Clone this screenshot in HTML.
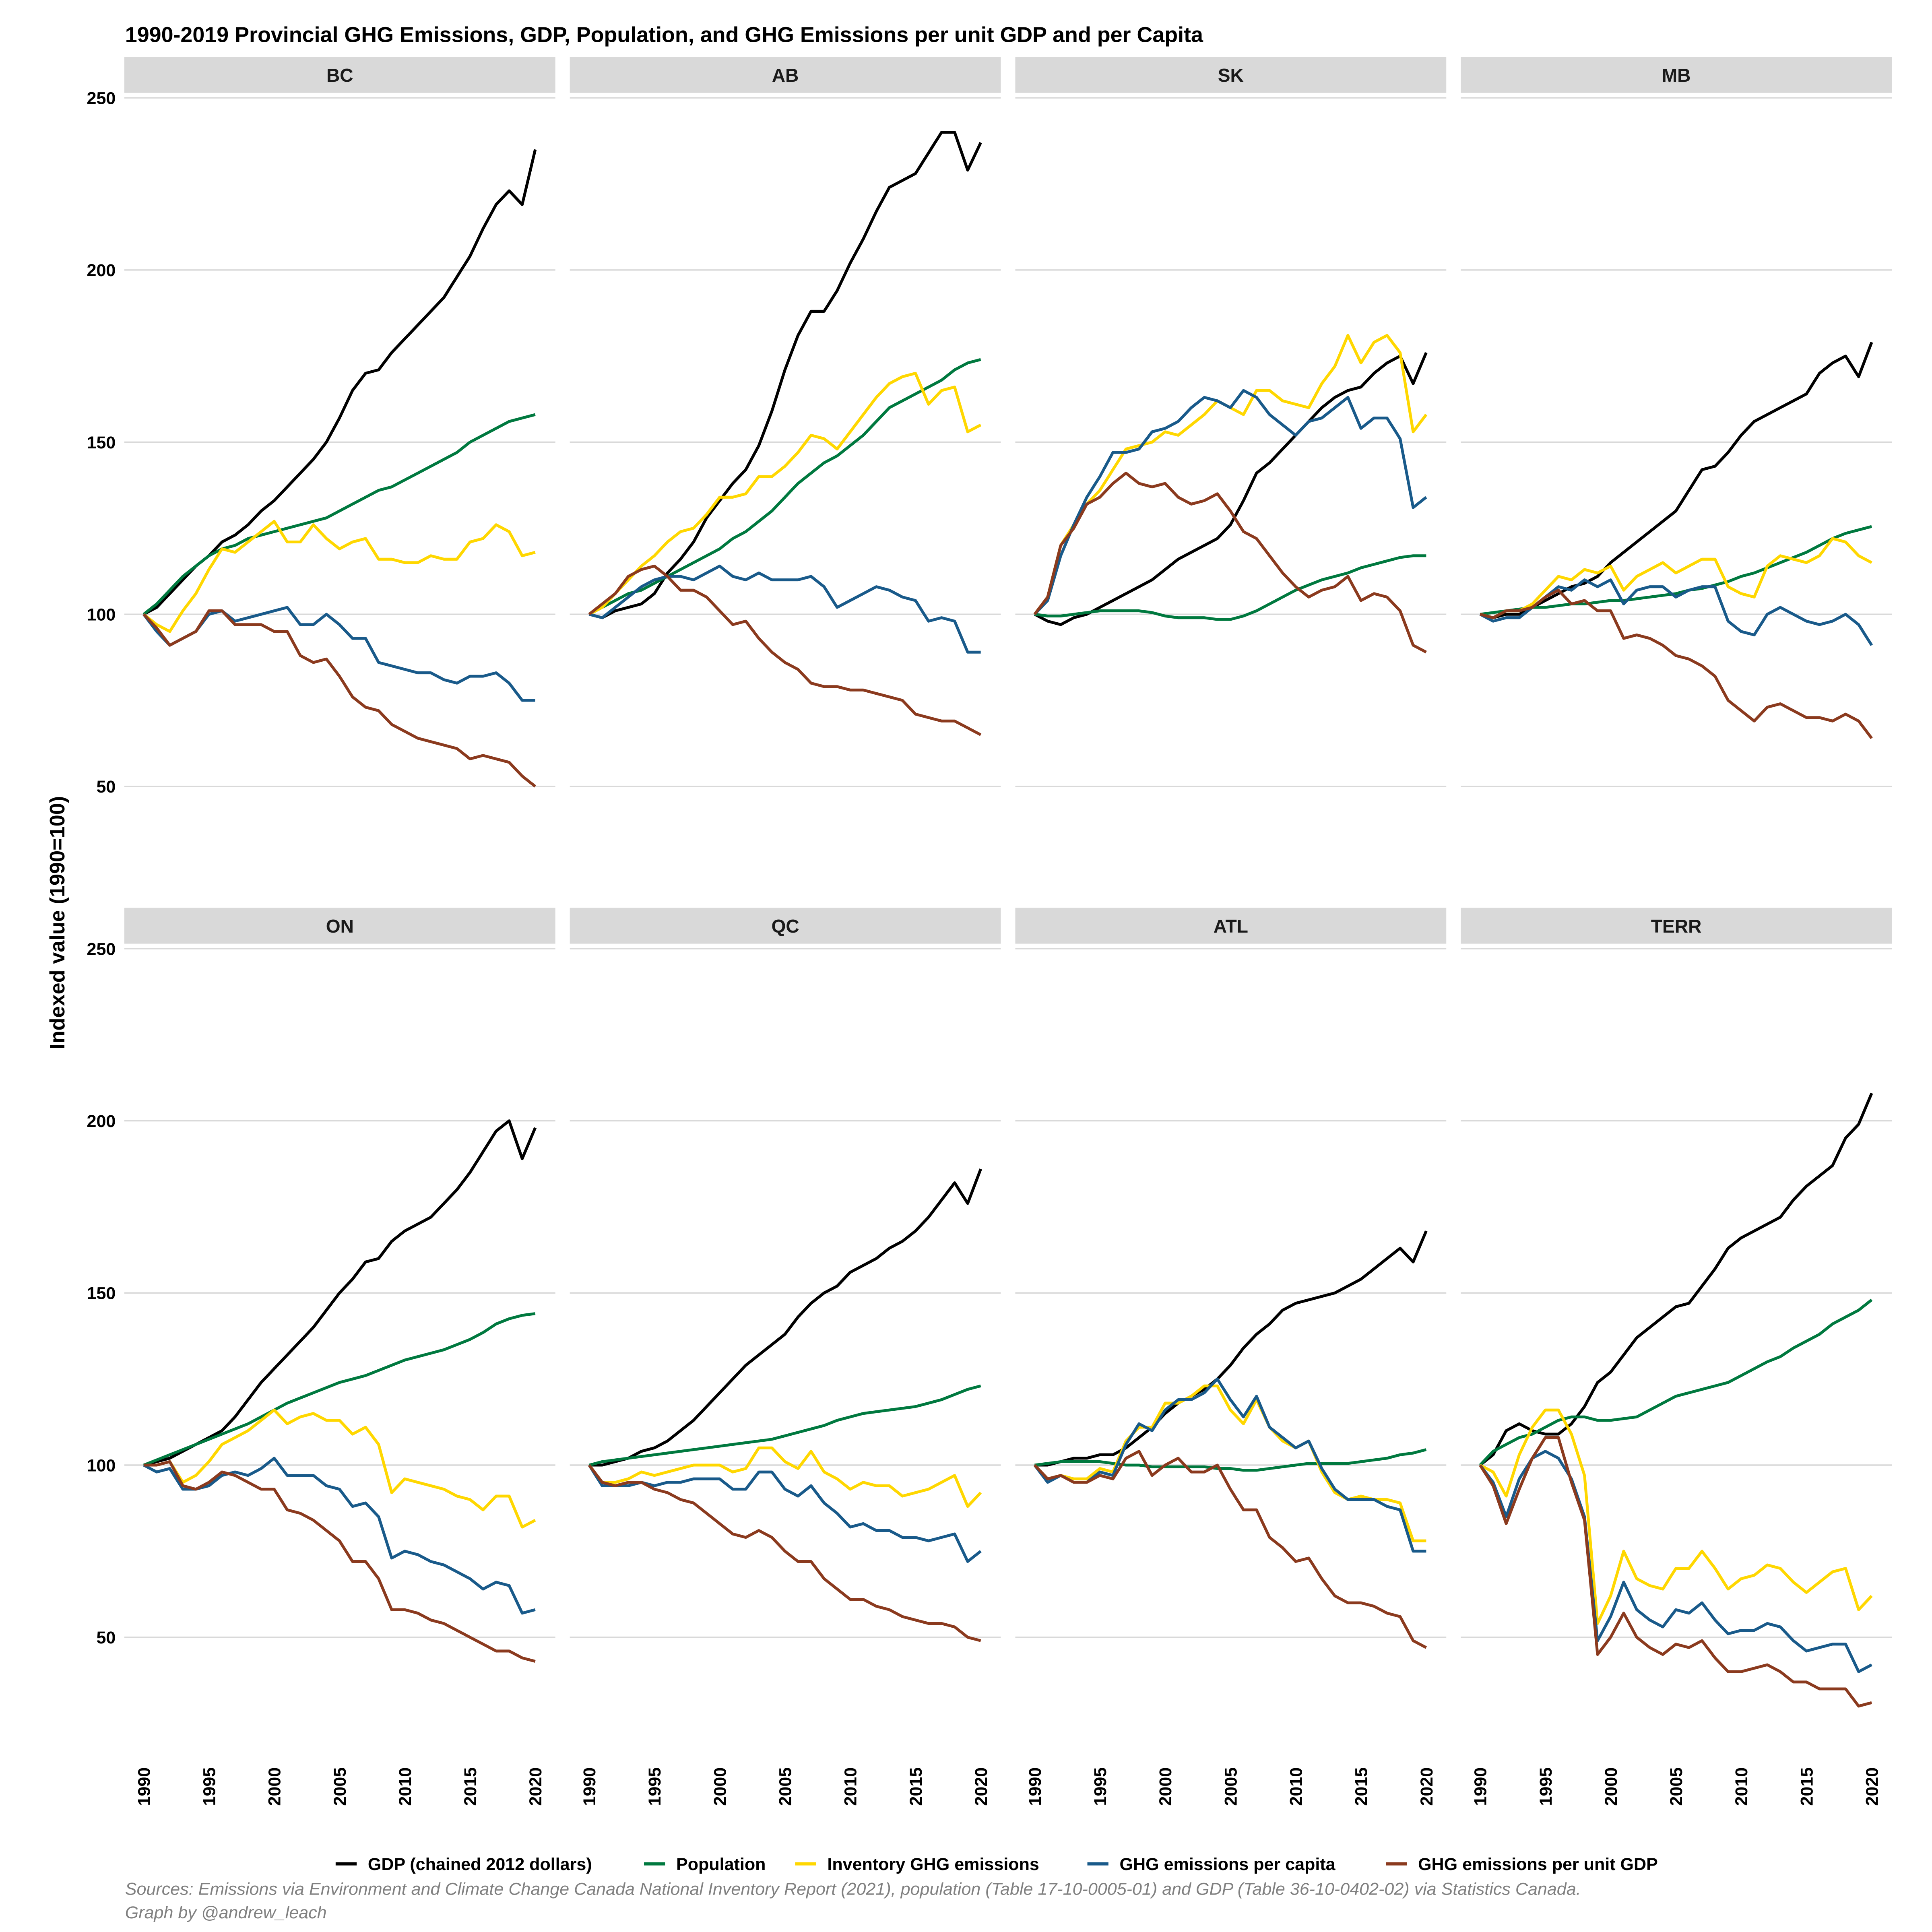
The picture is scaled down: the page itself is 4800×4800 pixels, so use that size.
<!DOCTYPE html>
<html><head><meta charset="utf-8"><style>
html,body{margin:0;padding:0;background:#fff;}
svg{display:block;font-family:"Liberation Sans",Arial,sans-serif;}
</style></head><body>
<svg id="chart" width="4800" height="4800" viewBox="0 0 1560 1560" xmlns="http://www.w3.org/2000/svg">
<rect width="1560" height="1560" fill="#fff"/>
<text x="101" y="34" font-size="17.5" font-weight="bold" fill="#000">1990-2019 Provincial GHG Emissions, GDP, Population, and GHG Emissions per unit GDP and per Capita</text>
<text transform="translate(52,745) rotate(-90)" text-anchor="middle" font-size="17" font-weight="bold" fill="#000">Indexed value (1990=100)</text>
<g id="panels"></g>
<g id="legend"></g>
<text x="101" y="1530" font-size="14" font-style="italic" fill="#808080">Sources: Emissions via Environment and Climate Change Canada National Inventory Report (2021), population (Table 17-10-0005-01) and GDP (Table 36-10-0402-02) via Statistics Canada.</text>
<text x="101" y="1549" font-size="14" font-style="italic" fill="#808080">Graph by @andrew_leach</text>
</svg>
<script>
const regions = ["BC","AB","SK","MB","ON","QC","ATL","TERR"];
const seriesNames = ["GDP (chained 2012 dollars)","Population","Inventory GHG emissions","GHG emissions per capita","GHG emissions per unit GDP"];
const seriesColors = ["#000000","#00793f","#ffd700","#195a8a","#8b3a1e"];
const yTicks = [50,100,150,200,250];
const xTicks = [1990,1995,2000,2005,2010,2015,2020];
const startYear = 1990;

const gdp = {
BC:[100,102,106,110,114,117,121,123,126,130,133,137,141,145,150,157,165,170,171,176,180,184,188,192,198,204,212,219,223,219,235],
AB:[100,99,101,102,103,106,112,116,121,128,133,138,142,149,159,171,181,188,188,194,202,209,217,224,226,228,234,240,240,229,237],
SK:[100,98,97,99,100,102,104,106,108,110,113,116,118,120,122,126,133,141,144,148,152,156,160,163,165,166,170,173,175,167,176],
MB:[100,99,100,100,102,104,106,108,109,111,115,118,121,124,127,130,136,142,143,147,152,156,158,160,162,164,170,173,175,169,179],
ON:[100,101,102,104,106,108,110,114,119,124,128,132,136,140,145,150,154,159,160,165,168,170,172,176,180,185,191,197,200,189,198],
QC:[100,100,101,102,104,105,107,110,113,117,121,125,129,132,135,138,143,147,150,152,156,158,160,163,165,168,172,177,182,176,186],
ATL:[100,100,101,102,102,103,103,105,108,111,115,118,120,122,125,129,134,138,141,145,147,148,149,150,152,154,157,160,163,159,168],
TERR:[100,103,110,112,110,109,109,112,117,124,127,132,137,140,143,146,147,152,157,163,166,168,170,172,177,181,184,187,195,199,208]
};
const population = {
BC:[100,103,107,111,114,117,119,120,122,123,124,125,126,127,128,130,132,134,136,137,139,141,143,145,147,150,152,154,156,157,158],
AB:[100,102,104,106,107,109,111,113,115,117,119,122,124,127,130,134,138,141,144,146,149,152,156,160,162,164,166,168,171,173,174],
SK:[100,99.5,99.5,100,100.5,101,101,101,101,100.5,99.5,99,99,99,98.5,98.5,99.5,101,103,105,107,108.5,110,111,112,113.5,114.5,115.5,116.5,117,117],
MB:[100,100.5,101,101.5,102,102,102.5,103,103,103.5,104,104,104.5,105,105.5,106,107,107.5,108.5,109.5,111,112,113.5,115,116.5,118,120,122,123.5,124.5,125.5],
ON:[100,101.5,103,104.5,106,107.5,109,110.5,112,114,116,118,119.5,121,122.5,124,125,126,127.5,129,130.5,131.5,132.5,133.5,135,136.5,138.5,141,142.5,143.5,144],
QC:[100,101,101.5,102,102.5,103,103.5,104,104.5,105,105.5,106,106.5,107,107.5,108.5,109.5,110.5,111.5,113,114,115,115.5,116,116.5,117,118,119,120.5,122,123],
ATL:[100,100.5,101,101,101,101,100.5,100,100,99.5,99.5,99.5,99.5,99.5,99,99,98.5,98.5,99,99.5,100,100.5,100.5,100.5,100.5,101,101.5,102,103,103.5,104.5],
TERR:[100,104,106,108,109,111,113,114,114,113,113,113.5,114,116,118,120,121,122,123,124,126,128,130,131.5,134,136,138,141,143,145,148]
};
const inventory = {
BC:[100,97,95,101,106,113,119,118,121,124,127,121,121,126,122,119,121,122,116,116,115,115,117,116,116,121,122,126,124,117,118],
AB:[100,102,106,110,114,117,121,124,125,129,134,134,135,140,140,143,147,152,151,148,153,158,163,167,169,170,161,165,166,153,155],
SK:[100,105,120,126,132,136,142,148,149,150,153,152,155,158,162,160,158,165,165,162,161,160,167,172,181,173,179,181,176,153,158],
MB:[100,99,101,101,103,107,111,110,113,112,114,107,111,113,115,112,114,116,116,108,106,105,114,117,116,115,117,122,121,117,115],
ON:[100,100,101,95,97,101,106,108,110,113,116,112,114,115,113,113,109,111,106,92,96,95,94,93,91,90,87,91,91,82,84],
QC:[100,95,95,96,98,97,98,99,100,100,100,98,99,105,105,101,99,104,98,96,93,95,94,94,91,92,93,95,97,88,92],
ATL:[100,96,97,96,96,99,98,107,111,111,118,118,120,123,123,116,112,119,111,107,105,107,98,92,90,91,90,90,89,78,78],
TERR:[100,98,91,103,111,116,116,109,97,54,62,75,67,65,64,70,70,75,70,64,67,68,71,70,66,63,66,69,70,58,62]
};
const perCapita = {
BC:[100,95,91,93,95,100,101,98,99,100,101,102,97,97,100,97,93,93,86,85,84,83,83,81,80,82,82,83,80,75,75],
AB:[100,99,102,105,108,110,111,111,110,112,114,111,110,112,110,110,110,111,108,102,104,106,108,107,105,104,98,99,98,89,89],
SK:[100,104,117,126,134,140,147,147,148,153,154,156,160,163,162,160,165,163,158,155,152,156,157,160,163,154,157,157,151,131,134],
MB:[100,98,99,99,102,105,108,107,110,108,110,103,107,108,108,105,107,108,108,98,95,94,100,102,100,98,97,98,100,97,91],
ON:[100,98,99,93,93,94,97,98,97,99,102,97,97,97,94,93,88,89,85,73,75,74,72,71,69,67,64,66,65,57,58],
QC:[100,94,94,94,95,94,95,95,96,96,96,93,93,98,98,93,91,94,89,86,82,83,81,81,79,79,78,79,80,72,75],
ATL:[100,95,97,95,95,98,97,106,112,110,116,119,119,121,125,119,114,120,111,108,105,107,99,93,90,90,90,88,87,75,75],
TERR:[100,95,85,96,102,104,102,96,85,49,56,66,58,55,53,58,57,60,55,51,52,52,54,53,49,46,47,48,48,40,42]
};
const perGdp = {
BC:[100,96,91,93,95,101,101,97,97,97,95,95,88,86,87,82,76,73,72,68,66,64,63,62,61,58,59,58,57,53,50],
AB:[100,103,106,111,113,114,111,107,107,105,101,97,98,93,89,86,84,80,79,79,78,78,77,76,75,71,70,69,69,67,65],
SK:[100,105,120,125,132,134,138,141,138,137,138,134,132,133,135,130,124,122,117,112,108,105,107,108,111,104,106,105,101,91,89],
MB:[100,99,101,101,102,105,107,103,104,101,101,93,94,93,91,88,87,85,82,75,72,69,73,74,72,70,70,69,71,69,64],
ON:[100,100,101,94,93,95,98,97,95,93,93,87,86,84,81,78,72,72,67,58,58,57,55,54,52,50,48,46,46,44,43],
QC:[100,95,94,95,95,93,92,90,89,86,83,80,79,81,79,75,72,72,67,64,61,61,59,58,56,55,54,54,53,50,49],
ATL:[100,96,97,95,95,97,96,102,104,97,100,102,98,98,100,93,87,87,79,76,72,73,67,62,60,60,59,57,56,49,47],
TERR:[100,94,83,93,102,108,108,95,84,45,50,57,50,47,45,48,47,49,44,40,40,41,42,40,37,37,35,35,35,30,31]
};
const allSeries = [gdp, population, inventory, perCapita, perGdp];
const seriesKeys = ["gdp","population","inventory","per-capita","per-gdp"];

const NS = "http://www.w3.org/2000/svg";
const panelsG = document.getElementById("panels");
const colX0 = [100.4, 460.1, 819.8, 1179.5];
const panelW = 348;
const rowOffset = [0, 687];
function xScale(col, year){ return colX0[col] + 15.6 + (year - startYear) * 10.54; }
function yScale(row, v){ return rowOffset[row] + 79 + (250 - v) * 2.78; }
function mk(tag, attrs, parent){
  const el = document.createElementNS(NS, tag);
  for (const k in attrs) el.setAttribute(k, attrs[k]);
  parent.appendChild(el);
  return el;
}

regions.forEach((reg, i) => {
  const col = i % 4, row = Math.floor(i / 4);
  const g = mk("g", {}, panelsG);
  
  
  const x0 = colX0[col];
  const sy = 46 + rowOffset[row];
  const strip = mk("rect", {x:x0, y:sy, width:panelW, height:29, fill:"#d9d9d9"}, g);
  
  
  const st = mk("text", {x:x0 + panelW/2, y:sy + 20, "text-anchor":"middle", "font-size":"15", "font-weight":"bold", fill:"#1a1a1a"}, g);
  st.textContent = reg;
  
  
  yTicks.forEach(t => {
    const gl = mk("line", {x1:x0, x2:x0 + panelW, y1:yScale(row,t), y2:yScale(row,t), stroke:"#d9d9d9", "stroke-width":"1.1"}, g);
    
    
    if (col === 0) {
      const tl = mk("text", {x:x0 - 7, y:yScale(row,t) + 5, "text-anchor":"end", "font-size":"14", "font-weight":"bold", fill:"#000"}, g);
      tl.textContent = t;
      
      
    }
  });
  if (row === 1) {
    xTicks.forEach(yr => {
      const xx = xScale(col, yr) + 5;
      const tl = mk("text", {transform:"translate(" + xx + ",1427) rotate(-90)", "text-anchor":"end", "font-size":"14", "font-weight":"bold", fill:"#000"}, g);
      tl.textContent = yr;
      
      
    });
  }
  allSeries.forEach((s, si) => {
    const vals = s[reg];
    const d = vals.map((v, k) => (k ? "L" : "M") + xScale(col, startYear + k).toFixed(2) + "," + yScale(row, v).toFixed(2)).join("");
    const p = mk("path", {d:d, fill:"none", stroke:seriesColors[si], "stroke-width":"2.3", "stroke-linejoin":"round"}, g);
    
    
  });
});

const legendG = document.getElementById("legend");
const legendTextX = [297, 546, 668, 904, 1145];
seriesNames.forEach((nm, si) => {
  const x = legendTextX[si];
  const ln = mk("line", {x1:x - 26, x2:x - 9, y1:1505, y2:1505, stroke:seriesColors[si], "stroke-width":"2.5"}, legendG);
  
  
  const t = mk("text", {x:x, y:1510, "font-size":"14", "font-weight":"bold", fill:"#000"}, legendG);
  t.textContent = nm;
  
  
});
</script>
</body></html>
